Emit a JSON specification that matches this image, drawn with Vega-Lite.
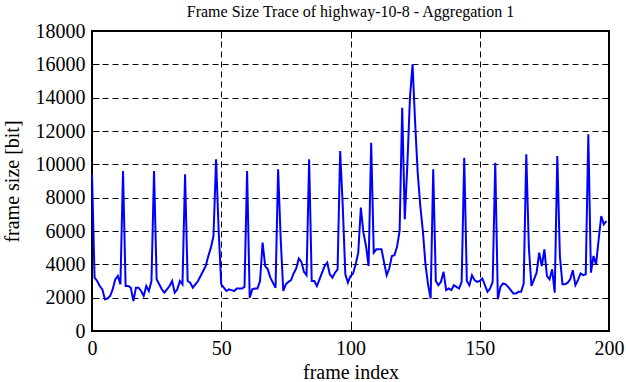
{
  "$schema": "https://vega.github.io/schema/vega-lite/v6.json",
  "width": 517,
  "height": 300,
  "autosize": {"type": "none"},
  "padding": {"left": 92, "top": 31, "right": 17, "bottom": 51},
  "background": "white",
  "title": {"text": "Frame Size Trace of highway-10-8 - Aggregation 1", "font": "Liberation Serif", "fontSize": 16, "fontWeight": "normal", "color": "black", "offset": 1},
  "config": {
    "view": {"stroke": "black", "strokeWidth": 2},
    "axis": {"labelFont": "Liberation Serif", "titleFont": "Liberation Serif", "labelFontSize": 20, "titleFontSize": 20, "titleFontWeight": "normal", "labelColor": "black", "titleColor": "black", "domain": false, "tickColor": "black", "tickWidth": 1, "gridColor": "black", "gridDash": [6, 4], "gridWidth": 1, "gridOpacity": 1, "format": "d", "labelFlush": false, "labelOverlap": false}
  },
  "data": {"values": [
    {"f":0,"v":9400},{"f":1,"v":3200},{"f":2,"v":3000},{"f":3,"v":2700},{"f":4,"v":2500},{"f":5,"v":1900},{"f":6,"v":1950},{"f":7,"v":2100},{"f":8,"v":2500},{"f":9,"v":3100},
    {"f":10,"v":3300},{"f":11,"v":2800},{"f":12,"v":9600},{"f":13,"v":2700},{"f":14,"v":2700},{"f":15,"v":2600},{"f":16,"v":1800},{"f":17,"v":2600},{"f":18,"v":2600},{"f":19,"v":2400},
    {"f":20,"v":2100},{"f":21,"v":2700},{"f":22,"v":2400},{"f":23,"v":3000},{"f":24,"v":9600},{"f":25,"v":3100},{"f":26,"v":2800},{"f":27,"v":2500},{"f":28,"v":2300},{"f":29,"v":2500},
    {"f":30,"v":2700},{"f":31,"v":3000},{"f":32,"v":2300},{"f":33,"v":2500},{"f":34,"v":3000},{"f":35,"v":2800},{"f":36,"v":9400},{"f":37,"v":3000},{"f":38,"v":2900},{"f":39,"v":2600},
    {"f":40,"v":2800},{"f":41,"v":3000},{"f":42,"v":3300},{"f":43,"v":3600},{"f":44,"v":3900},{"f":45,"v":4500},{"f":46,"v":5000},{"f":47,"v":5700},{"f":48,"v":10300},{"f":49,"v":6000},
    {"f":50,"v":2800},{"f":51,"v":2600},{"f":52,"v":2400},{"f":53,"v":2500},{"f":54,"v":2450},{"f":55,"v":2400},{"f":56,"v":2550},{"f":57,"v":2550},{"f":58,"v":2550},{"f":59,"v":2650},
    {"f":60,"v":9600},{"f":61,"v":2000},{"f":62,"v":2500},{"f":63,"v":2550},{"f":64,"v":2550},{"f":65,"v":3000},{"f":66,"v":5300},{"f":67,"v":3900},{"f":68,"v":3700},{"f":69,"v":3200},
    {"f":70,"v":2900},{"f":71,"v":2600},{"f":72,"v":9700},{"f":73,"v":5500},{"f":74,"v":2400},{"f":75,"v":2800},{"f":76,"v":2950},{"f":77,"v":3050},{"f":78,"v":3450},{"f":79,"v":3750},
    {"f":80,"v":4350},{"f":81,"v":4150},{"f":82,"v":3550},{"f":83,"v":3350},{"f":84,"v":10300},{"f":85,"v":3000},{"f":86,"v":3000},{"f":87,"v":2700},{"f":88,"v":3100},{"f":89,"v":3500},
    {"f":90,"v":3900},{"f":91,"v":4100},{"f":92,"v":3400},{"f":93,"v":3200},{"f":94,"v":3500},{"f":95,"v":3700},{"f":96,"v":10800},{"f":97,"v":7500},{"f":98,"v":3400},{"f":99,"v":2900},
    {"f":100,"v":3300},{"f":101,"v":3450},{"f":102,"v":4000},{"f":103,"v":4700},{"f":104,"v":7400},{"f":105,"v":5900},{"f":106,"v":5100},{"f":107,"v":3900},{"f":108,"v":11300},{"f":109,"v":4700},
    {"f":110,"v":4900},{"f":111,"v":4900},{"f":112,"v":4900},{"f":113,"v":4100},{"f":114,"v":3350},{"f":115,"v":3750},{"f":116,"v":4500},{"f":117,"v":4550},{"f":118,"v":5050},{"f":119,"v":6000},
    {"f":120,"v":13400},{"f":121,"v":6700},{"f":122,"v":10000},{"f":123,"v":14000},{"f":124,"v":16000},{"f":125,"v":12500},{"f":126,"v":9500},{"f":127,"v":7500},{"f":128,"v":6000},{"f":129,"v":4000},
    {"f":130,"v":2800},{"f":131,"v":1950},{"f":132,"v":9700},{"f":133,"v":3000},{"f":134,"v":2750},{"f":135,"v":2950},{"f":136,"v":3550},{"f":137,"v":2450},{"f":138,"v":2550},{"f":139,"v":2450},
    {"f":140,"v":2750},{"f":141,"v":2650},{"f":142,"v":2550},{"f":143,"v":2950},{"f":144,"v":10400},{"f":145,"v":3000},{"f":146,"v":2750},{"f":147,"v":3350},{"f":148,"v":3050},{"f":149,"v":2950},
    {"f":150,"v":3000},{"f":151,"v":3150},{"f":152,"v":2750},{"f":153,"v":2350},{"f":154,"v":2550},{"f":155,"v":2950},{"f":156,"v":10100},{"f":157,"v":1900},{"f":158,"v":2650},{"f":159,"v":2850},
    {"f":160,"v":2800},{"f":161,"v":2650},{"f":162,"v":2450},{"f":163,"v":2250},{"f":164,"v":2250},{"f":165,"v":2350},{"f":166,"v":2350},{"f":167,"v":2850},{"f":168,"v":10600},{"f":169,"v":5000},
    {"f":170,"v":2700},{"f":171,"v":3100},{"f":172,"v":3500},{"f":173,"v":4700},{"f":174,"v":3900},{"f":175,"v":4900},{"f":176,"v":3300},{"f":177,"v":3100},{"f":178,"v":3700},{"f":179,"v":2300},
    {"f":180,"v":10500},{"f":181,"v":4500},{"f":182,"v":2800},{"f":183,"v":2800},{"f":184,"v":2900},{"f":185,"v":3100},{"f":186,"v":3650},{"f":187,"v":2750},{"f":188,"v":3050},{"f":189,"v":3450},
    {"f":190,"v":3350},{"f":191,"v":3400},{"f":192,"v":11800},{"f":193,"v":3500},{"f":194,"v":4500},{"f":195,"v":4000},{"f":196,"v":5500},{"f":197,"v":6900},{"f":198,"v":6400},{"f":199,"v":6600}
  ]},
  "layer": [
    {
      "mark": {"type": "line", "color": "#0000ff", "strokeWidth": 2},
      "encoding": {
        "x": {"field": "f", "type": "quantitative", "scale": {"domain": [0, 200], "nice": false},
              "axis": {"title": "frame index", "values": [0, 50, 100, 150, 200], "tickSize": -7, "labelPadding": 14, "titlePadding": 4, "grid": true}},
        "y": {"field": "v", "type": "quantitative", "scale": {"domain": [0, 18000], "nice": false},
              "axis": {"title": "frame size [bit]", "values": [0, 2000, 4000, 6000, 8000, 10000, 12000, 14000, 16000, 18000], "tickSize": -7, "labelPadding": 14, "titlePadding": 13, "grid": true}}
      }
    },
    {
      "mark": {"type": "line", "opacity": 0},
      "encoding": {
        "x": {"field": "f", "type": "quantitative",
              "axis": {"orient": "top", "title": null, "labels": false, "values": [0, 50, 100, 150, 200], "tickSize": -7, "grid": false}},
        "y": {"field": "v", "type": "quantitative",
              "axis": {"orient": "right", "title": null, "labels": false, "values": [0, 2000, 4000, 6000, 8000, 10000, 12000, 14000, 16000, 18000], "tickSize": -7, "grid": false}}
      }
    }
  ],
  "resolve": {"axis": {"x": "independent", "y": "independent"}}
}
